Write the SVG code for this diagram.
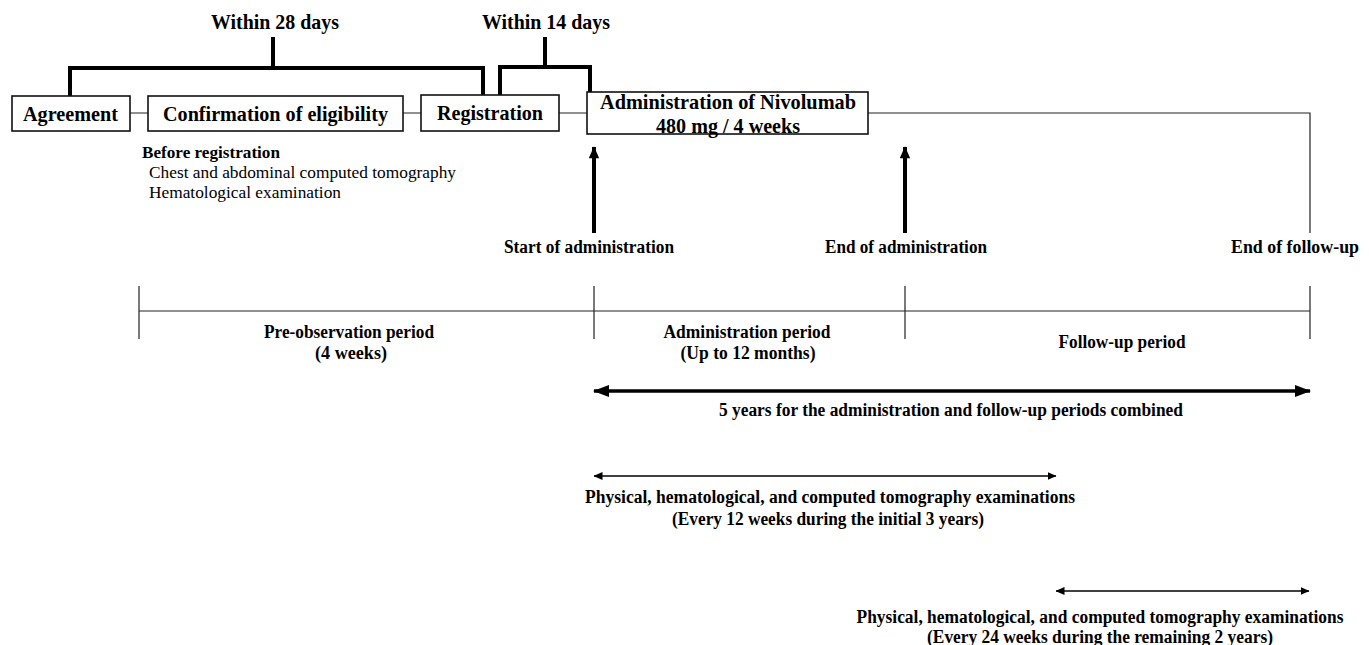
<svg xmlns="http://www.w3.org/2000/svg" width="1369" height="645" viewBox="0 0 1369 645">
<style>
text{font-family:"Liberation Serif","Times New Roman",serif;fill:#000}
.b{font-weight:bold}
.t20{font-size:22px}
.t17{font-size:18px}
.t16{font-size:16.5px}
.box{fill:#fff;stroke:#111;stroke-width:1.6}
.thin{fill:none;stroke:#222;stroke-width:1.2}
.brk{fill:none;stroke:#000;stroke-width:4}
.arr{fill:none;stroke:#000}
</style>
<defs>
<marker id="hThick" viewBox="0 0 16 12" refX="15" refY="6" markerWidth="16" markerHeight="12" markerUnits="userSpaceOnUse" orient="auto-start-reverse"><path d="M0,0 L16,6 L0,12 Z" fill="#000"/></marker>
<marker id="hUp" viewBox="0 0 12 14" refX="13" refY="6" markerWidth="14" markerHeight="12" markerUnits="userSpaceOnUse" orient="auto"><path d="M0,0 L14,6 L0,12 Z" fill="#000"/></marker>
<marker id="hThin" viewBox="0 0 9 8" refX="8.5" refY="4" markerWidth="9" markerHeight="8" markerUnits="userSpaceOnUse" orient="auto-start-reverse"><path d="M0,0 L9,4 L0,8 Z" fill="#000"/></marker>
</defs>

<g id="connectors">
  <path class="brk" d="M70,96 V68 H483 V96"/>
  <path class="brk" d="M273,37 V68"/>
  <path class="brk" d="M500,96 V67 H590 V92"/>
  <path class="brk" d="M545,37 V67"/>
  <path class="thin" d="M130,113 H148 M403,113 H421 M559,113 H587"/>
  <path class="thin" d="M868,113 H1310 V233"/>
  <path class="arr" stroke-width="4" d="M594,233 V147" marker-end="url(#hUp)"/>
  <path class="arr" stroke-width="4" d="M905,233 V147" marker-end="url(#hUp)"/>
  <path class="thin" d="M139,311 H1310 M139,286 V339 M594,286 V339 M905,286 V339 M1310,286 V339"/>
  <path class="arr" stroke-width="3.5" d="M594,391 H1310" marker-start="url(#hThick)" marker-end="url(#hThick)"/>
  <path class="arr" stroke-width="1.6" d="M594,476 H1056" marker-start="url(#hThin)" marker-end="url(#hThin)"/>
  <path class="arr" stroke-width="1.6" d="M1056,591 H1309" marker-start="url(#hThin)" marker-end="url(#hThin)"/>
</g>

<g id="label-within28"><text class="b t20" x="275" y="29" text-anchor="middle" textLength="128" lengthAdjust="spacingAndGlyphs">Within 28 days</text></g>
<g id="label-within14"><text class="b t20" x="546" y="29" text-anchor="middle" textLength="128" lengthAdjust="spacingAndGlyphs">Within 14 days</text></g>

<g id="node-agreement">
  <rect class="box" x="12" y="96" width="118" height="35"/>
  <text class="b t20" x="70.5" y="121" text-anchor="middle" textLength="95" lengthAdjust="spacingAndGlyphs">Agreement</text>
</g>
<g id="node-eligibility">
  <rect class="box" x="148" y="96" width="255" height="35"/>
  <text class="b t20" x="275.5" y="121" text-anchor="middle" textLength="225" lengthAdjust="spacingAndGlyphs">Confirmation of eligibility</text>
</g>
<g id="node-registration">
  <rect class="box" x="421" y="95" width="138" height="36"/>
  <text class="b t20" x="490" y="120" text-anchor="middle" textLength="106" lengthAdjust="spacingAndGlyphs">Registration</text>
</g>
<g id="node-administration">
  <rect class="box" x="587" y="92" width="281" height="42"/>
  <text class="b t20" x="728" y="109" text-anchor="middle" textLength="256" lengthAdjust="spacingAndGlyphs">Administration of Nivolumab</text>
  <text class="b t20" x="728" y="133" text-anchor="middle" textLength="144" lengthAdjust="spacingAndGlyphs">480 mg / 4 weeks</text>
</g>

<g id="note-before-registration">
  <text class="b t16" x="142" y="158" textLength="138" lengthAdjust="spacingAndGlyphs">Before registration</text>
  <text class="t16" x="149" y="178" textLength="307" lengthAdjust="spacingAndGlyphs">Chest and abdominal computed tomography</text>
  <text class="t16" x="149" y="198" textLength="192" lengthAdjust="spacingAndGlyphs">Hematological examination</text>
</g>

<g id="label-start"><text class="b t17" x="589" y="253" text-anchor="middle" textLength="170" lengthAdjust="spacingAndGlyphs">Start of administration</text></g>
<g id="label-end-admin"><text class="b t17" x="906" y="253" text-anchor="middle" textLength="162" lengthAdjust="spacingAndGlyphs">End of administration</text></g>
<g id="label-end-follow"><text class="b t17" x="1295" y="253" text-anchor="middle" textLength="128" lengthAdjust="spacingAndGlyphs">End of follow-up</text></g>

<g id="period-pre">
  <text class="b t17" x="349" y="338" text-anchor="middle" textLength="170" lengthAdjust="spacingAndGlyphs">Pre-observation period</text>
  <text class="b t17" x="351" y="359" text-anchor="middle" textLength="72" lengthAdjust="spacingAndGlyphs">(4 weeks)</text>
</g>
<g id="period-admin">
  <text class="b t17" x="747" y="338" text-anchor="middle" textLength="167" lengthAdjust="spacingAndGlyphs">Administration period</text>
  <text class="b t17" x="748" y="359" text-anchor="middle" textLength="135" lengthAdjust="spacingAndGlyphs">(Up to 12 months)</text>
</g>
<g id="period-follow">
  <text class="b t17" x="1122" y="348" text-anchor="middle" textLength="127" lengthAdjust="spacingAndGlyphs">Follow-up period</text>
</g>

<g id="label-5years">
  <text class="b t17" x="951" y="416" text-anchor="middle" textLength="464" lengthAdjust="spacingAndGlyphs">5 years for the administration and follow-up periods combined</text>
</g>
<g id="label-exam-12">
  <text class="b t17" x="830" y="503" text-anchor="middle" textLength="490" lengthAdjust="spacingAndGlyphs">Physical, hematological, and computed tomography examinations</text>
  <text class="b t17" x="828" y="525" text-anchor="middle" textLength="312" lengthAdjust="spacingAndGlyphs">(Every 12 weeks during the initial 3 years)</text>
</g>
<g id="label-exam-24">
  <text class="b t17" x="1100" y="623" text-anchor="middle" textLength="487" lengthAdjust="spacingAndGlyphs">Physical, hematological, and computed tomography examinations</text>
  <text class="b t17" x="1100" y="643" text-anchor="middle" textLength="346" lengthAdjust="spacingAndGlyphs">(Every 24 weeks during the remaining 2 years)</text>
</g>
</svg>
